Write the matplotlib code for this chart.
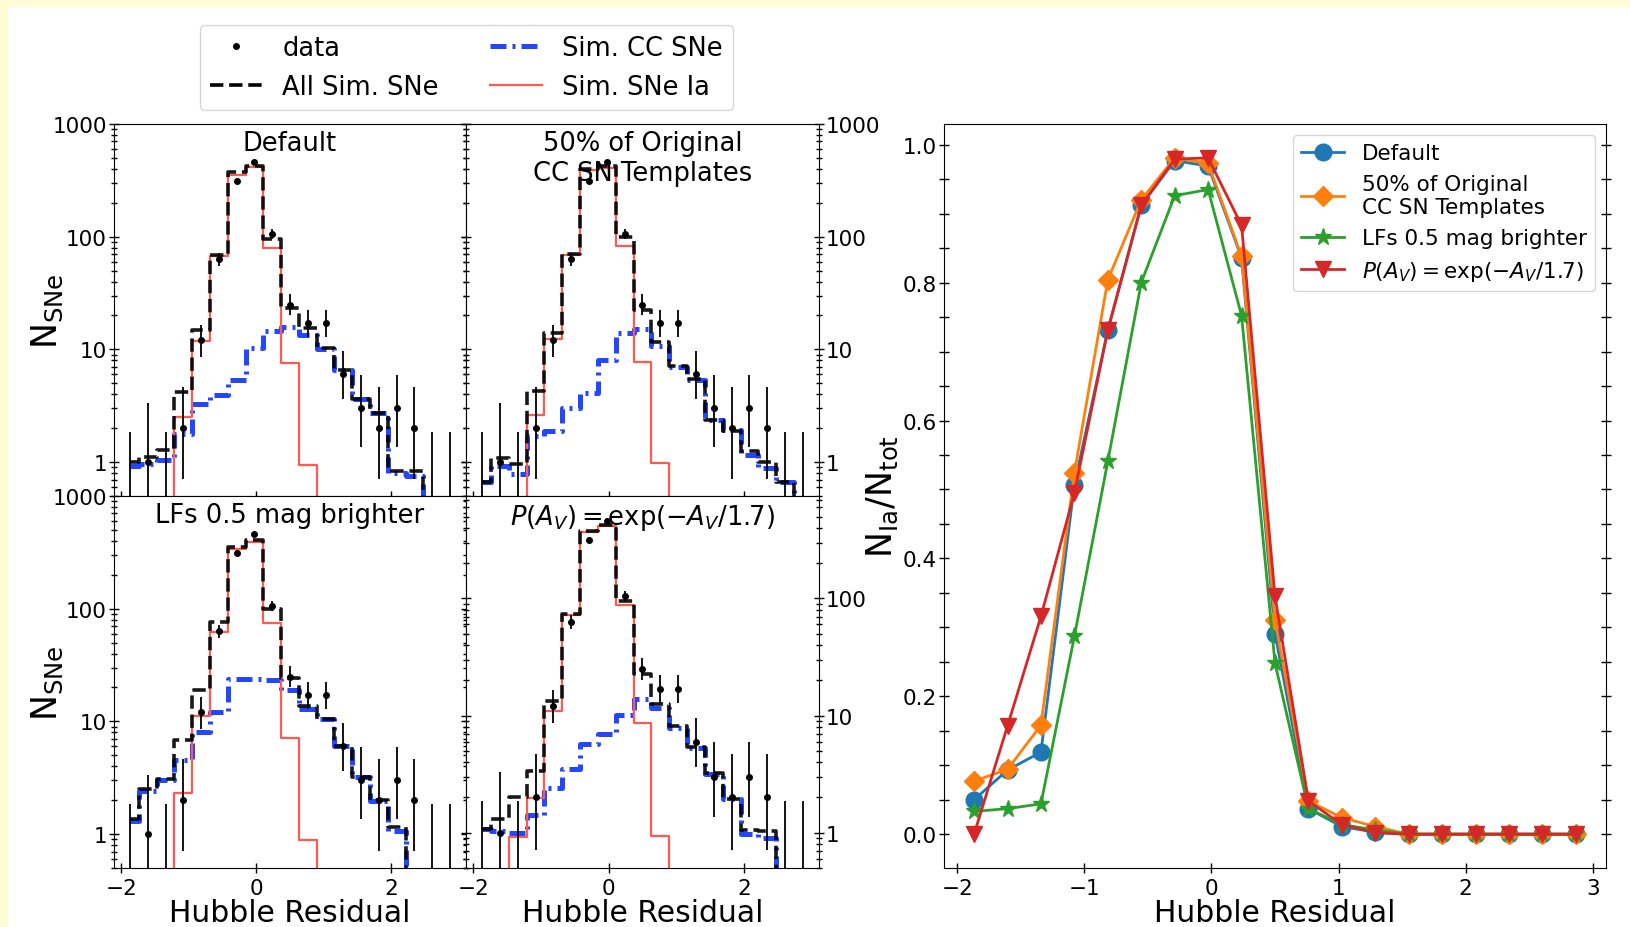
import numpy as np
import matplotlib.pyplot as plt
from matplotlib.lines import Line2D
from matplotlib.patches import Rectangle
from matplotlib.ticker import LogLocator, FuncFormatter, NullFormatter, MultipleLocator

# 19 bins of Hubble residual between -2 and 3
edges = np.linspace(-2, 3, 20)
centers = 0.5 * (edges[1:] + edges[:-1])

# observed counts (same data in every panel)
n_data = np.array([0, 1, 0, 2, 12, 63, 315, 460, 105, 25, 17, 17, 6, 3, 2, 3, 2, 0, 0])

# simulated histograms, one set per panel: Ia, CC, all
ia_default = [0.07, 0.14, 0.22, 2.5, 11.8, 67, 356, 413, 79, 7.6, 0.95, 0, 0, 0, 0, 0, 0, 0, 0]
cc_default = [0.93, 0.96, 1.05, 1.78, 3.3, 3.9, 5.4, 10.3, 14.7, 15.7, 13.3, 10.1, 6.5, 3.6, 2.74, 0.8, 0.76, 0, 0]
all_default = [1.0, 1.1, 1.27, 4.2, 15, 69, 373, 422, 95.6, 23.4, 15.5, 10.3, 6.5, 3.65, 2.74, 0.84, 0.83, 0, 0]

ia_50 = [0, 0.15, 0.18, 2.6, 12.3, 69, 390, 410, 83, 7.7, 0.98, 0, 0, 0, 0, 0, 0, 0, 0]
cc_50 = [0.67, 0.93, 0.79, 1.69, 1.9, 3.0, 4.08, 8.05, 14.1, 15.1, 10.8, 7.0, 5.35, 2.37, 1.93, 1.16, 0.88, 0.67, 0]
all_50 = [0.67, 1.08, 0.97, 4.3, 14.1, 70, 400, 420, 99, 22.3, 11.7, 7.1, 5.5, 2.37, 1.9, 1.26, 1.0, 0.67, 0]

ia_lf = [0.05, 0.09, 0.11, 2.32, 11.1, 61.8, 339, 392, 75, 7.1, 0.89, 0, 0, 0, 0, 0, 0, 0, 0]
cc_lf = [1.31, 2.43, 2.99, 4.56, 8.05, 12.1, 23.6, 24, 23.3, 18.9, 13, 10.6, 6.0, 3.2, 1.98, 1.07, 0, 0, 0]
all_lf = [1.36, 2.52, 3.1, 6.8, 18.9, 75.9, 353, 411, 99, 24.4, 13.6, 10.6, 6.0, 3.2, 2.0, 1.15, 0, 0, 0]

ia_av = [0, 0.27, 0.92, 1.99, 10.9, 72, 371, 414, 87.7, 8.7, 0.94, 0, 0, 0, 0, 0, 0, 0, 0]
cc_av = [1.07, 1.03, 1.0, 1.43, 2.42, 3.47, 5.67, 6.9, 10.1, 14.0, 11.7, 7.9, 5.3, 3.19, 1.93, 0.97, 0.91, 0, 0]
all_av = [1.07, 1.3, 2.0, 3.36, 13.3, 74, 380, 425, 95, 22.5, 12.5, 8.1, 5.4, 3.25, 1.93, 1.05, 1.03, 0, 0]

# Ia fraction per bin
frac_default = [0.050, 0.093, 0.119, 0.507, 0.731, 0.912, 0.977, 0.969, 0.836, 0.291, 0.037, 0.011, 0.003, 0, 0, 0, 0, 0, 0]
frac_50 = [0.077, 0.094, 0.158, 0.524, 0.804, 0.920, 0.981, 0.973, 0.838, 0.310, 0.048, 0.024, 0.011, 0, 0, 0, 0, 0, 0]
frac_lf = [0.033, 0.037, 0.044, 0.287, 0.541, 0.800, 0.926, 0.935, 0.752, 0.248, 0.037, 0.014, 0.006, 0, 0, 0, 0, 0, 0]
frac_av = [0.0, 0.157, 0.316, 0.495, 0.731, 0.912, 0.979, 0.981, 0.883, 0.345, 0.048, 0.014, 0.002, 0, 0, 0, 0, 0, 0]

titles = ['Default', '50% of Original\nCC SN Templates', 'LFs 0.5 mag brighter',
          r'$P(A_V) = \exp(-A_V/1.7)$']
ia_sets = [ia_default, ia_50, ia_lf, ia_av]
cc_sets = [cc_default, cc_50, cc_lf, cc_av]
all_sets = [all_default, all_50, all_lf, all_av]
frac_sets = [frac_default, frac_50, frac_lf, frac_av]

# Gehrels-style poisson errors
n_safe = np.maximum(n_data, 1)
err_hi = np.sqrt(n_data + 0.75) + 1.0
err_lo = np.where(n_data > 0, n_data - n_data * (1 - 1 / (9 * n_safe) - 1 / (3 * np.sqrt(n_safe))) ** 3, 0)

blue = '#2446ff'
red = '#ff5a50'
cc_style = (0, (3.2, 1.2, 0.6, 1.2))

fig = plt.figure(figsize=(16.3, 9.28), dpi=100)
fig.patches.append(Rectangle((0, 1 - 7 / 928), 1, 7 / 928, transform=fig.transFigure,
                             color='#fffcd6', zorder=-10))
fig.patches.append(Rectangle((0, 0), 7 / 1630, 1, transform=fig.transFigure,
                             color='#fffcd6', zorder=-10))

W = 1630.0
H = 928.0
boxes = [[114 / W, 1 - 497 / H, 352 / W, 372 / H],
         [466 / W, 1 - 497 / H, 353 / W, 372 / H],
         [114 / W, 1 - 869 / H, 352 / W, 372 / H],
         [466 / W, 1 - 869 / H, 353 / W, 372 / H]]
tops = [1000, 1000, 1000, 750]

for i in range(4):
    ax = fig.add_axes(boxes[i])
    ax.step(centers, cc_sets[i], where='mid', color=blue, lw=3.6, ls=cc_style)
    ax.step(centers, ia_sets[i], where='mid', color=red, lw=1.6)
    ax.step(centers, all_sets[i], where='mid', color='k', lw=2.6, ls='--', alpha=0.9)
    ax.errorbar(centers, n_data, yerr=[err_lo, err_hi], fmt='none', ecolor='k', elinewidth=1.3)
    good = n_data > 0
    ax.plot(centers[good], n_data[good], '.', color='k', ms=8)
    ax.set_yscale('log')
    ax.set_ylim(0.5, tops[i])
    ax.set_xlim(-2.105, 3.105)
    ax.xaxis.set_major_locator(MultipleLocator(2))
    ax.yaxis.set_major_locator(LogLocator(base=10))
    ax.yaxis.set_minor_locator(LogLocator(base=10, subs=np.arange(2, 10)))
    ax.yaxis.set_major_formatter(FuncFormatter(lambda v, p: '%g' % v))
    ax.yaxis.set_minor_formatter(NullFormatter())
    ax.tick_params(which='both', direction='inout', labelsize=15.5, left=True, right=True)
    ax.tick_params(which='major', length=7, width=1)
    ax.tick_params(which='minor', length=4, width=1)
    ax.tick_params(axis='y', pad=1.5)
    if i % 2 == 1:
        ax.tick_params(axis='y', labelleft=False, labelright=True)
    else:
        ax.set_ylabel(r'$\mathregular{N_{SNe}}$', fontsize=25)
        ax.yaxis.set_label_coords(-0.14, 0.5)
    if i < 2:
        ax.tick_params(axis='x', labelbottom=False)
    else:
        ax.set_xlabel('Hubble Residual', fontsize=21.5, labelpad=0)
    ax.text(0.5, 0.985, titles[i], transform=ax.transAxes, ha='center', va='top', fontsize=18.5)

handles = [Line2D([], [], color='k', marker='.', ls='none', ms=8),
           Line2D([], [], color='k', ls='--', lw=2.6),
           Line2D([], [], color=blue, ls=cc_style, lw=3.6),
           Line2D([], [], color=red, lw=1.6)]
labels = ['data', 'All Sim. SNe', 'Sim. CC SNe', 'Sim. SNe Ia']
fig.legend(handles, labels, loc='upper left', bbox_to_anchor=(200 / W, 1 - 26 / H),
           ncol=2, fontsize=18.5, columnspacing=2.0, borderaxespad=0)

axr = fig.add_axes([944 / W, 1 - 869 / H, 662 / W, 744 / H])
markers = ['o', 'D', '*', 'v']
sizes = [12, 10.5, 12.5, 12]
colors = ['tab:blue', 'tab:orange', 'tab:green', 'tab:red']
for k in range(4):
    axr.plot(centers, frac_sets[k], marker=markers[k], ms=sizes[k], lw=2,
             color=colors[k], label=titles[k])
axr.xaxis.set_major_locator(MultipleLocator(1))
axr.yaxis.set_major_locator(MultipleLocator(0.2))
axr.yaxis.set_minor_locator(MultipleLocator(0.05))
axr.tick_params(which='both', direction='inout', labelsize=15.5, left=True, right=True)
axr.tick_params(which='both', length=7, width=1)
axr.tick_params(axis='y', pad=1.5)
axr.set_xlabel('Hubble Residual', fontsize=21.5, labelpad=0)
axr.set_ylabel(r'$\mathregular{N_{Ia}/N_{tot}}$', fontsize=25)
axr.yaxis.set_label_coords(-0.066, 0.5)
axr.legend(loc='upper right', fontsize=15.5)

fig.savefig('out.png', dpi=100)
